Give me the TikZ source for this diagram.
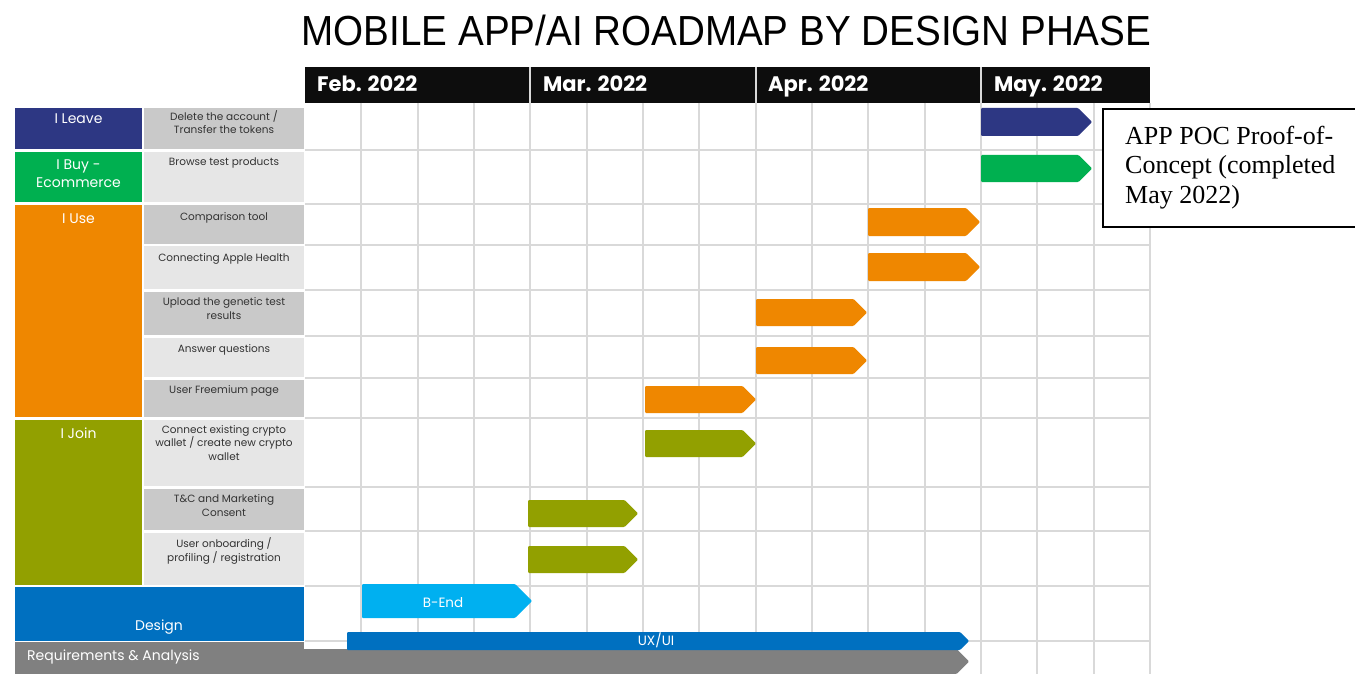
\documentclass[tikz,border=0pt]{standalone}
\usepackage{fontspec}
\setmainfont{Poppins}
\newfontfamily\titlefont{Liberation Sans}
\newfontfamily\boxfont{Liberation Serif}
\definecolor{cLeave}{HTML}{2D3783}
\definecolor{cBuy}{HTML}{00B050}
\definecolor{cUse}{HTML}{EF8700}
\definecolor{cJoin}{HTML}{92A000}
\definecolor{cDesign}{HTML}{0070C0}
\definecolor{cBEnd}{HTML}{00B0F0}
\definecolor{cReq}{HTML}{808080}
\definecolor{cDark}{HTML}{C9C9C9}
\definecolor{cLight}{HTML}{E6E6E6}
\definecolor{cGrid}{HTML}{D9D9D9}
\definecolor{cHead}{HTML}{0D0D0D}
\newcommand\gbar[6]{% name, x1, x2 (tip), ytop, ybot, colour
  \fill[#6, rounded corners=1pt] (#2,#4) -- ({#3-(#5-#4)/2},#4) -- (#3,{(#4+#5)/2}) -- ({#3-(#5-#4)/2},#5) -- (#2,#5) -- cycle;
  \coordinate (#1) at ({(#2+#3)/2},{(#4+#5)/2});
}
\begin{document}
\begin{tikzpicture}[x=1pt,y=-1pt,
  gridline/.style={draw=cGrid, line width=2pt},
  sublab/.style={font=\fontsize{10.5}{13.3}\selectfont, text=black!80, align=center, inner sep=0pt, anchor=base},
  mainlab/.style={font=\fontsize{14}{18}\selectfont, text=white, align=center, inner sep=0pt, anchor=base},
  monthlab/.style={font=\fontsize{21}{24}\selectfont\bfseries, text=white, inner sep=0pt, anchor=base west},
  barlab/.style={font=\fontsize{13.5}{16}\selectfont, text=white, inner sep=0pt, anchor=base},
  boxlab/.style={font=\boxfont\fontsize{26}{29}\selectfont, text=black, inner sep=0pt, anchor=base west}]
\useasboundingbox (0,0) rectangle (1355,674);
\fill[white] (0,0) rectangle (1355,674);

% title
\node[inner sep=0pt, anchor=base] (title) at (726.5,46) {\titlefont\fontsize{38.6}{42}\selectfont\scalebox{1}[1.09]{MOBILE APP/AI ROADMAP BY DESIGN PHASE}};

% header
\fill[cHead] (305,67) rectangle (1150,103);
\foreach \xx in {530,756,981} \draw[white!85!black, line width=1.5pt] (\xx,67) -- (\xx,103);
\node[monthlab] (feb) at (317,92) {Feb. 2022};
\node[monthlab] (mar) at (543,92) {Mar. 2022};
\node[monthlab] (apr) at (768,92) {Apr. 2022};
\node[monthlab] (may) at (994,92) {May. 2022};

% grid
\foreach \k in {1,...,15} \draw[gridline] ({305+\k*56.33},103) -- ({305+\k*56.33},674);
\foreach \yy in {150.5,203.5,244.5,290,336,378,418,486.5,531,585.5,641} \draw[gridline] (305,\yy) -- (1150,\yy);

% left main cells
\fill[cLeave] (15,108) rectangle (142,149.5);
\fill[cBuy] (15,152) rectangle (142,202);
\fill[cUse] (15,205) rectangle (142,417);
\fill[cJoin] (15,419.5) rectangle (142,585);
\fill[cDesign] (15,587) rectangle (303.5,640.5);
\fill[cReq] (15,642) rectangle (304,674);

% sub cells
\fill[cDark] (144,108) rectangle (304,149.5);
\fill[cLight] (144,152) rectangle (304,202);
\fill[cDark] (144,205) rectangle (304,243.5);
\fill[cLight] (144,246) rectangle (304,289);
\fill[cDark] (144,291.5) rectangle (304,335);
\fill[cLight] (144,337.5) rectangle (304,377);
\fill[cDark] (144,379.5) rectangle (304,417);
\fill[cLight] (144,419.5) rectangle (304,486);
\fill[cDark] (144,488.5) rectangle (304,530);
\fill[cLight] (144,532.5) rectangle (304,585);

% main labels (multi-line: anchor at last line's baseline)
\node[mainlab] (leave) at (78.5,124) {I Leave};
\node[mainlab] (buy) at (78.5,187) {I Buy -\\Ecommerce};
\node[mainlab] (use) at (78.5,223) {I Use};
\node[mainlab] (join) at (78.5,438) {I Join};
\node[mainlab] (design) at (159,630) {Design};

% sub labels
\node[sublab] (s1) at (224,134) {Delete the account /\\Transfer the tokens};
\node[sublab] (s2) at (224,166) {Browse test products};
\node[sublab] (s3) at (224,220) {Comparison tool};
\node[sublab] (s4) at (224,261) {Connecting Apple Health};
\node[sublab] (s5) at (224,319) {Upload the genetic test\\results};
\node[sublab] (s6) at (224,352) {Answer questions};
\node[sublab] (s7) at (224,393) {User Freemium page};
\node[sublab] (s8) at (224,460) {Connect existing crypto\\wallet / create new crypto\\wallet};
\node[sublab] (s9) at (224,516) {T\&C and Marketing\\Consent};
\node[sublab] (s10) at (224,561) {User onboarding /\\profiling / registration};

% bars
\gbar{b1}{981}{1092}{108}{136}{cLeave}
\gbar{b2}{981}{1092}{155}{182}{cBuy}
\gbar{b3}{868}{980}{208}{236}{cUse}
\gbar{b4}{868}{980}{253}{281}{cUse}
\gbar{b5}{756}{867}{299}{326}{cUse}
\gbar{b6}{756}{867}{347}{374}{cUse}
\gbar{b7}{645}{756}{386}{413}{cUse}
\gbar{b8}{645}{756}{430}{457}{cJoin}
\gbar{b9}{528}{638}{500}{527}{cJoin}
\gbar{b10}{528}{638}{546}{573}{cJoin}
\gbar{b11}{362}{532}{584}{618}{cBEnd}
\gbar{b13}{15}{969}{649}{674}{cReq}
\gbar{b12}{347}{969}{632}{650}{cDesign}
\node[barlab] (bend) at (443,607) {B-End};
\node[barlab] (uxui) at (656,645) {UX/UI};
\node[mainlab, anchor=base west] (req) at (27,660) {Requirements \& Analysis};

% note box
\draw[black, line width=1.3pt, fill=white] (1103,109) rectangle (1358,227);
\node[boxlab] (n1) at (1125,145) {APP POC Proof-of-};
\node[boxlab] (n2) at (1125,174) {Concept (completed};
\node[boxlab] (n3) at (1125,203) {May 2022)};
\end{tikzpicture}
\end{document}
